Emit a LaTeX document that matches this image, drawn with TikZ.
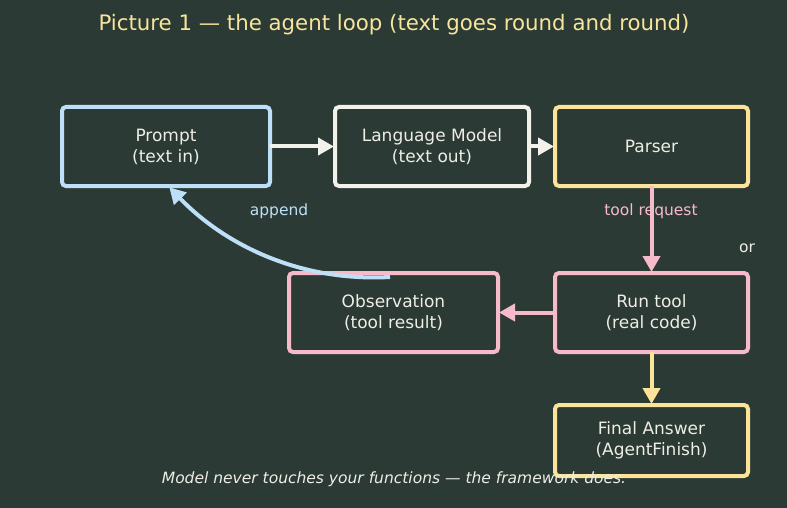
\documentclass[tikz,border=0pt]{standalone}
\usepackage{fontspec}
\setmainfont{DejaVu Sans}
\usetikzlibrary{arrows.meta,calc}
\definecolor{bg}{HTML}{2B3A34}
\definecolor{cblue}{HTML}{BDE0F8}
\definecolor{cwhite}{HTML}{F2F2EA}
\definecolor{cyellow}{HTML}{FBE49A}
\definecolor{cpink}{HTML}{F7BACB}
\definecolor{ctext}{HTML}{EEEEE6}
\definecolor{ctitle}{HTML}{F8E49C}
\tikzset{
  box/.style={draw, line width=4pt, rounded corners=4pt, fill=bg, text=ctext,
    minimum width=193pt, minimum height=79pt, align=center, inner sep=0pt,
    font=\fontsize{17}{21}\selectfont},
  conn/.style={line width=4pt, -{Triangle[length=16pt,width=17pt]}, shorten >=-1pt},
  lbl/.style={font=\fontsize{15.5}{18}\selectfont},
}
\begin{document}
\begin{tikzpicture}[x=1pt,y=-1pt]
\fill[bg] (0,0) rectangle (787,508);
\useasboundingbox (0,0) rectangle (787,508);
\node[text=ctitle, font=\fontsize{21.3}{25}\selectfont] (title) at (394,25) {Picture 1 — the agent loop (text goes round and round)};
\node[box, draw=cblue, minimum width=208pt] (prompt) at (166,146.5) {Prompt\\(text in)};
\node[box, draw=cwhite, minimum width=194pt] (lm) at (432,146.5) {Language Model\\(text out)};
\node[box, draw=cyellow] (parser) at (651.5,146.5) {Parser};
\node[box, draw=cpink, minimum width=209pt] (obs) at (393.5,312.5) {Observation\\(tool result)};
\node[box, draw=cpink] (run) at (651.5,312.5) {Run tool\\(real code)};
\node[box, draw=cyellow, minimum height=71pt] (final) at (651.5,440.5) {Final Answer\\(AgentFinish)};
\draw[conn, cwhite] ($(prompt.east)+(-2,0)$) -- (lm.west);
\draw[conn, cwhite] ($(lm.east)+(-2,0)$) -- (parser.west);
\draw[conn, cpink] ($(parser.south)+(0,-2)$) -- (run.north);
\draw[conn, cpink] ($(run.west)+(2,0)$) -- (obs.east);
\draw[conn, cyellow] ($(run.south)+(0,-2)$) -- (final.north);
\coordinate (appstart) at ($(obs.north)+(-3.5,6)$);
\coordinate (append) at ($(prompt.south)+(4,0)$);
\draw[conn, cblue] (appstart) .. controls (300,282) and (225,245) .. (append);
\node[lbl, text=cpink] (treq) at (651,211) {tool request};
\node[lbl, text=ctext] (or) at (747,248) {or};
\node[lbl, text=cblue] (applbl) at (279,211) {append};
\node[lbl, text=ctext, font=\fontsize{15.5}{18}\selectfont\itshape] (cap) at (394,479) {Model never touches your functions — the framework does.};
\end{tikzpicture}
\end{document}
